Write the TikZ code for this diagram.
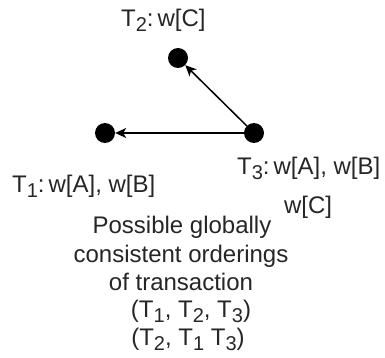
\documentclass[tikz,border=0pt]{standalone}
\usepackage{fontspec}
\setmainfont{Liberation Sans}
\usetikzlibrary{arrows.meta}
% subscript set almost at full size and lowered, as in HTML labels
\newcommand\lowsub[1]{\raisebox{-5pt}{\fontsize{20}{20}\selectfont #1}}
\tikzset{
  txdot/.style={circle, fill=black, draw=none, minimum size=20pt, inner sep=0pt},
  lbl/.style={inner sep=0pt, font=\fontsize{24}{28}\selectfont, text=black!85},
  dep/.style={line width=1.5pt, -{Stealth[length=11pt, width=10pt, inset=3pt]}, shorten >=0pt},
}
\begin{document}
\begin{tikzpicture}[x=1pt, y=-1pt]
  \useasboundingbox (0,0) rectangle (385,358);
  % transactions
  \node[txdot] (t2) at (178,58) {};
  \node[txdot] (t1) at (105,133) {};
  \node[txdot] (t3) at (254,133) {};
  % dependencies
  \draw[dep] (t3) -- (t1);
  \draw[dep] (t3) -- (t2);
  % write sets
  \node[lbl, anchor=base west] (l2) at (121,27) {T\lowsub{2}:\,w[C]};
  \node[lbl, anchor=base west] (l1) at (12,193) {T\lowsub{1}:\,w[A], w[B]};
  \node[lbl, anchor=base west] (l3a) at (237,175) {T\lowsub{3}:\,w[A], w[B]};
  \node[lbl, anchor=base] (l3b) at (308,213) {w[C]};
  % orderings
  \node[lbl, anchor=base] (o1) at (182,233) {Possible globally};
  \node[lbl, anchor=base] (o2) at (181,262) {consistent orderings};
  \node[lbl, anchor=base] (o3) at (181,290) {of transaction};
  \node[lbl, anchor=base] (o4) at (191,317) {(T\lowsub{1}, T\lowsub{2}, T\lowsub{3})};
  \node[lbl, anchor=base] (o5) at (188,345) {(T\lowsub{2}, T\lowsub{1} T\lowsub{3})};
\end{tikzpicture}
\end{document}
